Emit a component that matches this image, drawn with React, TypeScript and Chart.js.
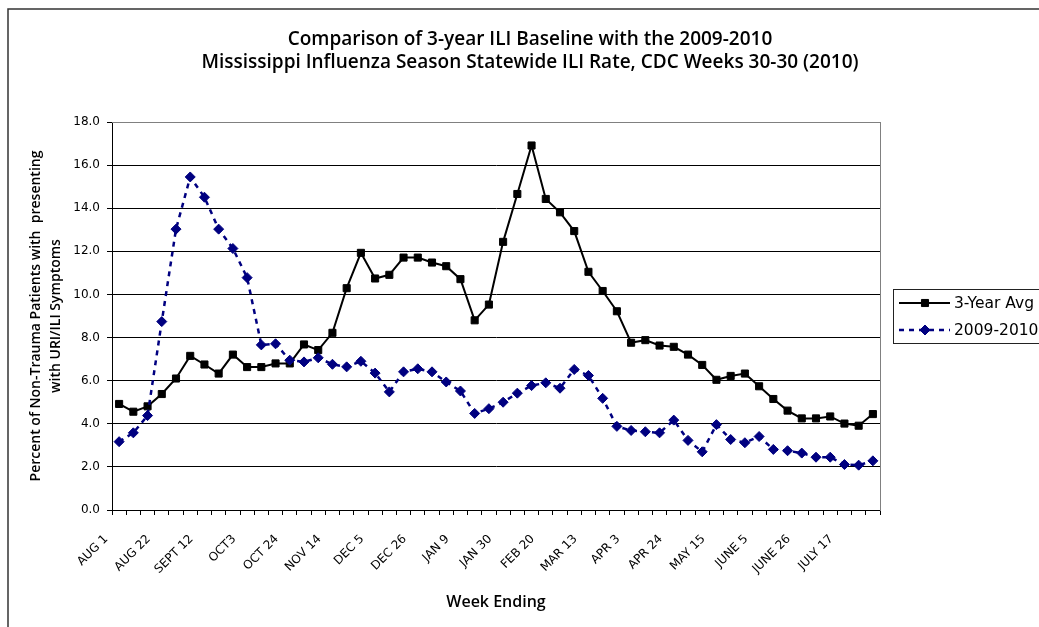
import React, { useEffect, useRef } from "react";
import { Chart, registerables } from "chart.js";

Chart.register(...registerables);

const titleLines = [
  "Comparison of 3-year ILI Baseline with the 2009-2010",
  "Mississippi Influenza Season Statewide ILI Rate, CDC Weeks 30-30 (2010)",
];
const yTitleLines = [
  "Percent of Non-Trauma Patients with  presenting",
  "with URI/ILI Symptoms",
];
const xTitle = "Week Ending";

const tickLabels = [
  "AUG 1", "AUG 22", "SEPT 12", "OCT3", "OCT 24", "NOV 14", "DEC 5", "DEC 26", "JAN 9",
  "JAN 30", "FEB 20", "MAR 13", "APR 3", "APR 24", "MAY 15", "JUNE 5", "JUNE 26", "JULY 17",
];
const weeksPerLabel = 3;
const weekCount = 54;

const seriesNames = ["3-Year Avg", "2009-2010"];

const avg3Year = [
  4.92, 4.56, 4.81, 5.38, 6.1, 7.15, 6.75, 6.33, 7.21, 6.63, 6.63, 6.8, 6.8, 7.68, 7.42, 8.22,
  10.29, 11.93, 10.74, 10.91, 11.71, 11.71, 11.48, 11.31, 10.71, 8.8, 9.53, 12.44, 14.66, 16.91,
  14.43, 13.81, 12.94, 11.05, 10.16, 9.22, 7.76, 7.88, 7.63, 7.57, 7.21, 6.73, 6.04, 6.22, 6.33,
  5.74, 5.15, 4.61, 4.25, 4.25, 4.34, 4.01, 3.91, 4.45,
];
const season2009 = [
  3.17, 3.58, 4.38, 8.74, 13.03, 15.45, 14.51, 13.03, 12.13, 10.78, 7.66, 7.71, 6.95, 6.87, 7.06,
  6.76, 6.64, 6.9, 6.35, 5.48, 6.41, 6.55, 6.41, 5.94, 5.52, 4.48, 4.7, 5.0, 5.42, 5.77, 5.9, 5.65,
  6.52, 6.24, 5.18, 3.88, 3.69, 3.63, 3.58, 4.17, 3.23, 2.7, 3.96, 3.27, 3.12, 3.41, 2.81, 2.75,
  2.64, 2.45, 2.45, 2.11, 2.08, 2.28,
];

const W = 1039;
const H = 627;

const categories = Array.from({ length: weekCount }, (_, i) =>
  i % weeksPerLabel === 0 ? tickLabels[i / weeksPerLabel] ?? "" : ""
);

function drawMarker(ctx: CanvasRenderingContext2D, style: string, x: number, y: number, r: number) {
  ctx.beginPath();
  if (style === "rect") {
    const s = r * Math.SQRT1_2;
    ctx.rect(x - s, y - s, 2 * s, 2 * s);
  } else {
    ctx.moveTo(x - r, y);
    ctx.lineTo(x, y - r);
    ctx.lineTo(x + r, y);
    ctx.lineTo(x, y + r);
    ctx.closePath();
  }
  ctx.fill();
  ctx.stroke();
}

const decorPlugin = {
  id: "decor",
  beforeDraw(chart: any) {
    const { ctx } = chart;
    ctx.save();
    ctx.fillStyle = "#ffffff";
    ctx.fillRect(0, 0, W, H);
    ctx.strokeStyle = "#333333";
    ctx.lineWidth = 1.5;
    ctx.beginPath();
    ctx.moveTo(8, H);
    ctx.lineTo(8, 9);
    ctx.lineTo(W, 9);
    ctx.stroke();
    ctx.restore();
  },
  beforeDatasetsDraw(chart: any) {
    const { ctx, chartArea } = chart;
    ctx.save();
    ctx.strokeStyle = "#808080";
    ctx.lineWidth = 1;
    ctx.beginPath();
    ctx.moveTo(chartArea.left, chartArea.top + 0.5);
    ctx.lineTo(chartArea.right, chartArea.top + 0.5);
    ctx.stroke();
    ctx.restore();
  },
  afterDraw(chart: any) {
    const { ctx, chartArea } = chart;
    const bx = chartArea.right + 13;
    const bh = 54;
    const by = (chartArea.top + chartArea.bottom) / 2 - bh / 2;
    ctx.save();
    ctx.fillStyle = "#ffffff";
    ctx.fillRect(bx, by, 160, bh);
    ctx.strokeStyle = "#222222";
    ctx.lineWidth = 1;
    ctx.strokeRect(bx + 0.5, by + 0.5, 160, bh);
    chart.data.datasets.forEach((ds: any, i: number) => {
      const y = by + 14 + i * 27;
      ctx.save();
      ctx.strokeStyle = ds.borderColor;
      ctx.lineWidth = ds.borderWidth;
      ctx.setLineDash(ds.borderDash || []);
      ctx.beginPath();
      ctx.moveTo(bx + 6, y);
      ctx.lineTo(bx + 57, y);
      ctx.stroke();
      ctx.setLineDash([]);
      ctx.fillStyle = ds.pointBackgroundColor;
      ctx.strokeStyle = ds.pointBorderColor;
      ctx.lineWidth = ds.pointBorderWidth;
      drawMarker(ctx, ds.pointStyle, bx + 32, y, ds.pointRadius);
      ctx.restore();
      ctx.fillStyle = "#000000";
      ctx.font = "15.5px 'DejaVu Sans'";
      ctx.textBaseline = "middle";
      ctx.textAlign = "left";
      ctx.fillText(ds.label, bx + 61, y + 1);
    });
    ctx.restore();
  },
};

export default function App() {
  const canvasRef = useRef<HTMLCanvasElement | null>(null);

  useEffect(() => {
    const canvas = canvasRef.current;
    if (!canvas) return;
    const chart = new Chart(canvas, {
      type: "line",
      data: {
        labels: categories,
        datasets: [
          {
            label: seriesNames[0],
            data: avg3Year,
            borderColor: "#000000",
            backgroundColor: "#000000",
            borderWidth: 2,
            pointStyle: "rect",
            pointRadius: 5,
            pointBackgroundColor: "#000000",
            pointBorderColor: "#000000",
            pointBorderWidth: 1,
            tension: 0,
            order: 1,
          },
          {
            label: seriesNames[1],
            data: season2009,
            borderColor: "#000080",
            backgroundColor: "#000080",
            borderWidth: 2.5,
            borderDash: [5, 5],
            pointStyle: "rectRot",
            pointRadius: 5,
            pointBackgroundColor: "#000080",
            pointBorderColor: "#000080",
            pointBorderWidth: 1,
            tension: 0,
            order: 0,
          },
        ],
      },
      options: {
        responsive: false,
        animation: false,
        devicePixelRatio: 1,
        layout: { padding: { left: 21, right: 0, top: 0, bottom: 0 } },
        plugins: {
          legend: { display: false },
          tooltip: { enabled: false },
          title: {
            display: true,
            text: titleLines,
            color: "#000000",
            font: { family: "'Open Sans'", size: 19, weight: "600", lineHeight: 23 / 19 },
            padding: { top: 28, bottom: 48 },
          },
        },
        scales: {
          x: {
            type: "category",
            offset: true,
            grid: {
              offset: true,
              drawOnChartArea: false,
              drawTicks: true,
              tickLength: 5,
              color: "#000000",
            },
            border: { display: true, color: "#000000", width: 1 },
            ticks: {
              autoSkip: false,
              maxRotation: 45,
              minRotation: 45,
              labelOffset: -13,
              padding: 17,
              color: "#000000",
              font: { family: "'DejaVu Sans'", size: 12 },
            },
            title: {
              display: true,
              text: xTitle,
              color: "#000000",
              font: { family: "'Open Sans'", size: 16, weight: "600", lineHeight: 1.2 },
              padding: { top: 0, bottom: 15.4 },
            },
            afterFit: (s: any) => {
              s.height = 117;
            },
          },
          y: {
            type: "linear",
            position: "left",
            min: 0,
            max: 18,
            grid: { color: "#000000", lineWidth: 1, tickLength: 5, drawTicks: true },
            border: { display: true, color: "#000000", width: 1 },
            ticks: {
              stepSize: 2,
              padding: 7,
              color: "#000000",
              font: { family: "'DejaVu Sans'", size: 12 },
              callback: (v: any) => Number(v).toFixed(1),
            },
            title: {
              display: true,
              text: yTitleLines,
              color: "#000000",
              font: { family: "'Open Sans'", size: 14, weight: "600", lineHeight: 20 / 14 },
              padding: { top: 5, bottom: 0 },
            },
            afterFit: (s: any) => {
              s.width = 91;
            },
          },
          y2: {
            type: "linear",
            position: "right",
            display: true,
            grid: { display: false, drawOnChartArea: false, drawTicks: false },
            ticks: { display: false },
            border: { display: true, color: "#808080", width: 1 },
            afterFit: (s: any) => {
              s.width = 159;
            },
          },
        },
      },
      plugins: [decorPlugin],
    });
    return () => chart.destroy();
  }, []);

  return (
    <div style={{ position: "fixed", left: 0, top: 0, width: W, height: H, background: "#fff" }}>
      <canvas ref={canvasRef} width={W} height={H} style={{ display: "block", width: W, height: H }} />
    </div>
  );
}
